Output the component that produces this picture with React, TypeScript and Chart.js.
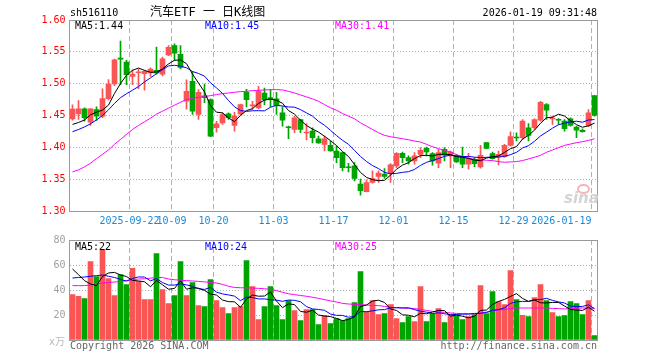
import React, { useEffect, useRef } from 'react';
import { Chart, registerables } from 'chart.js';

Chart.register(...registerables);

const dates = [
  '2025-09-08','2025-09-09','2025-09-10','2025-09-11','2025-09-12','2025-09-15','2025-09-16','2025-09-17','2025-09-18','2025-09-19',
  '2025-09-22','2025-09-23','2025-09-24','2025-09-25','2025-09-26','2025-09-29','2025-09-30','2025-10-09','2025-10-10','2025-10-13',
  '2025-10-14','2025-10-15','2025-10-16','2025-10-17','2025-10-20','2025-10-21','2025-10-22','2025-10-23','2025-10-24','2025-10-27',
  '2025-10-28','2025-10-29','2025-10-30','2025-10-31','2025-11-03','2025-11-04','2025-11-05','2025-11-06','2025-11-07','2025-11-10',
  '2025-11-11','2025-11-12','2025-11-13','2025-11-14','2025-11-17','2025-11-18','2025-11-19','2025-11-20','2025-11-21','2025-11-24',
  '2025-11-25','2025-11-26','2025-11-27','2025-11-28','2025-12-01','2025-12-02','2025-12-03','2025-12-04','2025-12-05','2025-12-08',
  '2025-12-09','2025-12-10','2025-12-11','2025-12-12','2025-12-15','2025-12-16','2025-12-17','2025-12-18','2025-12-19','2025-12-22',
  '2025-12-23','2025-12-24','2025-12-25','2025-12-26','2025-12-29','2025-12-30','2025-12-31','2026-01-05','2026-01-06','2026-01-07',
  '2026-01-08','2026-01-09','2026-01-12','2026-01-13','2026-01-14','2026-01-15','2026-01-16','2026-01-19',
];

const opens = [
  1.4448,1.4526,1.4604,1.4396,1.4594,1.4490,1.4766,1.4995,1.5400,1.5339,
  1.5115,1.5172,1.5156,1.5167,1.5208,1.5150,1.5450,1.5600,1.5460,1.4724,
  1.5036,1.4516,1.4810,1.4750,1.4307,1.4385,1.4526,1.4344,1.4526,1.4865,
  1.4650,1.4620,1.4854,1.4780,1.4760,1.4542,1.4313,1.4280,1.4437,1.4225,
  1.4255,1.4135,1.4047,1.4031,1.3943,1.3917,1.3685,1.3708,1.3422,1.3302,
  1.3448,1.3542,1.3578,1.3594,1.3708,1.3906,1.3839,1.3786,1.3890,1.3984,
  1.3901,1.3750,1.3969,1.3865,1.3865,1.3854,1.3734,1.3802,1.3693,1.4073,
  1.3901,1.3854,1.3854,1.4031,1.4156,1.4151,1.4307,1.4307,1.4427,1.4672,
  1.4445,1.4430,1.4411,1.4448,1.4318,1.4266,1.4344,1.4812,
];
const highs = [
  1.4667,1.4734,1.4620,1.4610,1.4635,1.4917,1.5063,1.5385,1.5670,1.5365,
  1.5219,1.5230,1.5208,1.5250,1.5573,1.5417,1.5600,1.5625,1.5600,1.5060,
  1.5190,1.4906,1.4995,1.4760,1.4410,1.4540,1.4540,1.4550,1.4680,1.4910,
  1.4724,1.4960,1.4930,1.4906,1.4865,1.4635,1.4333,1.4490,1.4440,1.4375,
  1.4307,1.4177,1.4177,1.4100,1.4020,1.3927,1.3750,1.3760,1.3500,1.3490,
  1.3630,1.3630,1.3667,1.3745,1.3917,1.3927,1.3865,1.3917,1.3995,1.4005,
  1.3917,1.3969,1.3995,1.3943,1.3890,1.4005,1.3906,1.3839,1.4031,1.4075,
  1.3927,1.3943,1.4047,1.4245,1.4229,1.4437,1.4375,1.4448,1.4724,1.4687,
  1.4490,1.4453,1.4437,1.4463,1.4333,1.4292,1.4594,1.4812,
];
const lows = [
  1.4427,1.4437,1.4411,1.4344,1.4422,1.4464,1.4745,1.4970,1.4984,1.4984,
  1.4984,1.4922,1.4896,1.5115,1.5150,1.5120,1.5440,1.5365,1.5230,1.4600,
  1.4516,1.4437,1.4700,1.4167,1.4240,1.4360,1.4437,1.4255,1.4510,1.4635,
  1.4594,1.4604,1.4670,1.4635,1.4516,1.4333,1.4135,1.4230,1.4230,1.4115,
  1.4070,1.4063,1.3943,1.3940,1.3760,1.3630,1.3615,1.3474,1.3250,1.3300,
  1.3438,1.3448,1.3510,1.3448,1.3682,1.3760,1.3734,1.3734,1.3839,1.3865,
  1.3719,1.3682,1.3786,1.3682,1.3765,1.3682,1.3656,1.3698,1.3672,1.3980,
  1.3813,1.3724,1.3840,1.4020,1.4099,1.4125,1.4099,1.4281,1.4411,1.4437,
  1.4359,1.4359,1.4255,1.4333,1.4150,1.4240,1.4323,1.4490,
];
const closes = [
  1.4599,1.4604,1.4464,1.4604,1.4490,1.4766,1.4995,1.5375,1.5385,1.5141,
  1.5151,1.5177,1.5193,1.5230,1.5167,1.5390,1.5570,1.5480,1.5255,1.4880,
  1.4568,1.4865,1.4780,1.4177,1.4370,1.4516,1.4464,1.4490,1.4670,1.4750,
  1.4660,1.4880,1.4750,1.4750,1.4656,1.4427,1.4307,1.4464,1.4280,1.4232,
  1.4150,1.4070,1.4135,1.3943,1.3839,1.3682,1.3680,1.3510,1.3318,1.3448,
  1.3510,1.3594,1.3542,1.3724,1.3906,1.3839,1.3786,1.3865,1.3953,1.3927,
  1.3786,1.3917,1.3875,1.3927,1.3770,1.3734,1.3823,1.3745,1.3875,1.3984,
  1.3823,1.3891,1.4031,1.4167,1.4146,1.4411,1.4187,1.4437,1.4708,1.4583,
  1.4450,1.4425,1.4292,1.4344,1.4271,1.4245,1.4542,1.4500,
];
const volumes = [
  36.3,34.9,33.1,62.7,50.7,72.5,49.1,35.5,52.3,44.3,
  57.3,46.9,32.3,32.3,69.1,40.3,29.1,35.5,62.7,35.5,
  45.9,27.5,26.7,48.3,31.5,25.9,21.1,25.9,26.7,63.5,
  42.7,16.3,26.7,42.7,27.5,16.3,31.5,23.5,15.5,24.3,
  24.3,12.3,19.5,13.1,17.1,15.5,17.1,29.9,54.7,22.7,
  31.5,20.3,21.1,28.3,17.1,13.9,18.7,14.7,42.7,14.7,
  21.1,25.1,13.9,20.3,19.5,16.3,18.7,20.3,43.5,21.1,
  38.7,30.7,28.3,55.5,32.3,19.7,18.7,33.9,44.3,31.5,
  21.9,18.7,19.5,30.7,29.1,20.3,31.5,3.5,
];

// moving-average values for the bars whose window starts before the shown range
const ma5Head = [1.436, 1.439, 1.443, 1.451];
const ma10Head = [1.4245, 1.428, 1.432, 1.437, 1.443, 1.450, 1.459, 1.469, 1.478];
const ma30 = [
  1.3615,1.3646,1.3693,1.3750,1.3823,1.3890,1.3958,1.4047,1.4125,1.4203,
  1.4281,1.4344,1.4401,1.4458,1.4521,1.4568,1.4615,1.4661,1.4708,1.4750,
  1.4771,1.4786,1.4797,1.4812,1.4828,1.4844,1.4854,1.4865,1.4875,1.4880,
  1.4891,1.4896,1.4901,1.4906,1.4906,1.4901,1.4880,1.4854,1.4823,1.4792,
  1.4760,1.4724,1.4672,1.4620,1.4583,1.4531,1.4490,1.4448,1.4385,1.4333,
  1.4281,1.4229,1.4188,1.4167,1.4151,1.4135,1.4120,1.4099,1.4083,1.4047,
  1.4010,1.3979,1.3953,1.3927,1.3885,1.3854,1.3828,1.3813,1.3802,1.3797,
  1.3792,1.3776,1.3766,1.3771,1.3776,1.3792,1.3818,1.3844,1.3875,1.3922,
  1.3958,1.3995,1.4031,1.4052,1.4073,1.4089,1.4109,1.4135,
];
const volMa5Head = [56.8, 52.3, 47.5, 44.8];
const volMa10Head = [49.6, 50.0, 50.4, 51.0, 51.5, 52.0, 51.0, 50.0, 48.5];
const volMa30 = [
  43.5,43.5,43.5,44.0,45.0,45.6,46.0,46.4,46.8,47.5,
  48.2,48.8,49.0,49.5,50.0,50.0,48.8,48.2,47.8,47.5,
  47.2,46.9,46.5,46.0,45.6,44.5,43.0,42.0,41.8,41.7,
  41.6,41.3,41.0,40.5,39.5,38.2,37.0,36.3,35.6,35.0,
  34.2,33.3,32.3,31.3,30.4,29.3,28.8,28.5,28.3,28.0,
  27.7,27.5,26.9,26.1,25.9,25.6,25.3,25.1,24.5,23.7,
  22.9,22.4,22.1,21.6,21.3,21.1,21.1,20.8,21.6,22.4,
  23.2,24.0,24.5,25.1,25.6,25.6,25.6,25.6,25.6,25.6,
  25.3,25.1,24.9,25.1,25.3,25.6,25.6,25.3,
];

const tickDates = ['2025-09-22','2025-10-09','2025-10-20','2025-11-03','2025-11-17','2025-12-01','2025-12-15','2025-12-29','2026-01-19'];
const tickTexts = ['2025-09-22','10-09','10-20','11-03','11-17','12-01','12-15','12-29','2026-01-19'];
const priceTicks = [1.30, 1.35, 1.40, 1.45, 1.50, 1.55, 1.60];
const volumeTicks = [0, 20, 40, 60, 80];

const RED = '#fa5555';
const GREEN = '#00a400';
const MONO = "'DejaVu Sans Mono', monospace";

function movingAverage(values: number[], n: number, head: number[]): number[] {
  return values.map((_, i) => {
    if (i < n - 1) return head[i];
    let s = 0;
    for (let k = i - n + 1; k <= i; k++) s += values[k];
    return s / n;
  });
}

const framePlugin = {
  id: 'frame',
  afterDatasetsDraw(chart: any) {
    const { ctx, chartArea: a } = chart;
    ctx.save();
    ctx.strokeStyle = '#9a9a9a';
    ctx.lineWidth = 1;
    ctx.strokeRect(Math.floor(a.left) + 0.5, Math.floor(a.top) + 0.5, Math.round(a.right - a.left), Math.round(a.bottom - a.top));
    ctx.restore();
  },
};

export default function App() {
  const topRef = useRef<HTMLCanvasElement>(null);
  const botRef = useRef<HTMLCanvasElement>(null);

  useEffect(() => {
    const colors = closes.map((c, i) => (c >= opens[i] ? RED : GREEN));
    const bodies = closes.map((c, i) => [Math.min(opens[i], c), Math.max(opens[i], c)]);
    const wicks = closes.map((_, i) => [lows[i], highs[i]]);
    const ma5 = movingAverage(closes, 5, ma5Head);
    const ma10 = movingAverage(closes, 10, ma10Head);
    const vma5 = movingAverage(volumes, 5, volMa5Head);
    const vma10 = movingAverage(volumes, 10, volMa10Head);
    const tickIdx = tickDates.map((d) => dates.indexOf(d));
    const xText = dates.map((d, i) => {
      const k = tickDates.indexOf(d);
      if (k < 0) return '';
      return i === dates.length - 1 ? tickTexts[k].padEnd(20, ' ') : tickTexts[k];
    });
    const vGrid = (c: any) => (tickIdx.includes(c.index) ? '#b0b0b0' : 'rgba(0,0,0,0)');
    const line = (data: number[], color: string) => ({
      type: 'line' as const, data, borderColor: color, borderWidth: 1, pointRadius: 0, tension: 0, order: 0,
    });

    const top = new Chart(topRef.current!, {
      type: 'bar',
      data: {
        labels: dates,
        datasets: [
          line(ma5, '#000000'),
          line(ma10, '#0000ff'),
          line(ma30, '#ff00ff'),
          { type: 'bar', data: bodies as any, backgroundColor: colors, barThickness: 5, minBarLength: 1, grouped: false, borderWidth: 0, order: 1 },
          { type: 'bar', data: wicks as any, backgroundColor: colors, barThickness: 1, grouped: false, borderWidth: 0, order: 2 },
        ] as any,
      },
      options: {
        animation: false,
        responsive: false,
        devicePixelRatio: 1,
        events: [],
        layout: { padding: { left: 0, right: 62.5, top: 20, bottom: 0 } },
        plugins: { legend: { display: false }, tooltip: { enabled: false } },
        scales: {
          x: {
            offset: true,
            grid: { offset: true, color: vGrid, lineWidth: 1, drawTicks: false },
            border: { display: false, dash: [5, 3] },
            ticks: {
              autoSkip: false, maxRotation: 0, minRotation: 0, padding: 4, labelOffset: -3,
              color: '#1a8ad8', font: { family: MONO, size: 10 },
              callback: (_v: any, i: number) => xText[i],
            },
            afterFit: (s: any) => { s.height = 21; },
          },
          y: {
            min: priceTicks[0],
            max: priceTicks[priceTicks.length - 1],
            afterBuildTicks: (s: any) => { s.ticks = priceTicks.map((v) => ({ value: v })); },
            grid: {
              drawTicks: false, lineWidth: 1,
              color: (c: any) => (c.index === 0 || c.index === priceTicks.length - 1 ? 'rgba(0,0,0,0)' : '#b0b0b0'),
            },
            border: { display: false, dash: [1, 2] },
            ticks: { padding: 4, color: '#ff0000', font: { family: MONO, size: 10 }, callback: (v: any) => Number(v).toFixed(2) },
            afterFit: (s: any) => { s.width = 69.5; },
          },
        },
      },
      plugins: [framePlugin],
    });

    const bot = new Chart(botRef.current!, {
      type: 'bar',
      data: {
        labels: dates,
        datasets: [
          line(vma5, '#000000'),
          line(vma10, '#0000ff'),
          line(volMa30, '#ff00ff'),
          { type: 'bar', data: volumes, backgroundColor: colors, barThickness: 5, grouped: false, borderWidth: 0, order: 1 },
        ] as any,
      },
      options: {
        animation: false,
        responsive: false,
        devicePixelRatio: 1,
        events: [],
        layout: { padding: { left: 0, right: 62.5, top: 10, bottom: 0 } },
        plugins: { legend: { display: false }, tooltip: { enabled: false } },
        scales: {
          x: {
            offset: true,
            grid: { offset: true, color: vGrid, lineWidth: 1, drawTicks: false },
            border: { display: false, dash: [5, 3] },
            ticks: { display: false },
            afterFit: (s: any) => { s.height = 20; },
          },
          y: {
            min: volumeTicks[0],
            max: volumeTicks[volumeTicks.length - 1],
            afterBuildTicks: (s: any) => { s.ticks = volumeTicks.map((v) => ({ value: v })); },
            grid: {
              drawTicks: false, lineWidth: 1,
              color: (c: any) => (c.index === 0 || c.index === volumeTicks.length - 1 ? 'rgba(0,0,0,0)' : '#b0b0b0'),
            },
            border: { display: false, dash: [1, 2] },
            ticks: { padding: 4, color: '#a0a0a0', font: { family: MONO, size: 10 }, callback: (v: any) => (Number(v) === 0 ? '' : String(v)) },
            afterFit: (s: any) => { s.width = 69.5; },
          },
        },
      },
      plugins: [framePlugin],
    });

    return () => { top.destroy(); bot.destroy(); };
  }, []);

  const txt = (style: React.CSSProperties, content: string, key: string) => (
    <div key={key} style={{ position: 'absolute', fontFamily: MONO, fontSize: 10, lineHeight: '12px', whiteSpace: 'pre', ...style }}>{content}</div>
  );

  return (
    <div style={{ position: 'fixed', left: 0, top: 0, width: 660, height: 360, background: '#fff', overflow: 'hidden' }}>
      <canvas ref={topRef} width={660} height={232} style={{ position: 'absolute', left: 0, top: 0 }} />
      <canvas ref={botRef} width={660} height={130} style={{ position: 'absolute', left: 0, top: 230 }} />
      {txt({ left: 70, top: 7, color: '#000' }, 'sh516110', 'code')}
      <div style={{ position: 'absolute', left: 150, top: 5, fontFamily: "'DejaVu Sans Mono', 'Noto Sans CJK SC', monospace", fontSize: 12, lineHeight: '14px', whiteSpace: 'pre', color: '#000' }}>汽车ETF 一 日K线图</div>
      {txt({ right: 63, top: 7, color: '#000', textAlign: 'right' }, '2026-01-19 09:31:48', 'time')}
      {txt({ left: 75, top: 20, color: '#000' }, 'MA5:1.44', 'p5')}
      {txt({ left: 205, top: 20, color: '#0000ff' }, 'MA10:1.45', 'p10')}
      {txt({ left: 335, top: 20, color: '#ff00ff' }, 'MA30:1.41', 'p30')}
      {txt({ left: 75, top: 241, color: '#000' }, 'MA5:22', 'v5')}
      {txt({ left: 205, top: 241, color: '#0000ff' }, 'MA10:24', 'v10')}
      {txt({ left: 335, top: 241, color: '#ff00ff' }, 'MA30:25', 'v30')}
      <div style={{ position: 'absolute', left: 49, top: 336, fontFamily: "'DejaVu Sans', 'Noto Sans CJK SC', sans-serif", fontSize: 10, lineHeight: '12px', color: '#bbbbbb' }}>x万</div>
      {txt({ left: 70, top: 340, color: '#666' }, 'Copyright 2026 SINA.COM', 'copy')}
      {txt({ right: 63, top: 340, color: '#666', textAlign: 'right' }, 'http://finance.sina.com.cn', 'url')}
      <div style={{ position: 'absolute', left: 577, top: 184, width: 9, height: 6, border: '2px solid #f3b5b5', borderRadius: '50%' }} />
      <div style={{ position: 'absolute', left: 564, top: 190, fontFamily: "'DejaVu Sans', sans-serif", fontSize: 15, fontStyle: 'italic', fontWeight: 'bold', lineHeight: '16px', color: '#d4d4d4' }}>sina</div>
    </div>
  );
}
